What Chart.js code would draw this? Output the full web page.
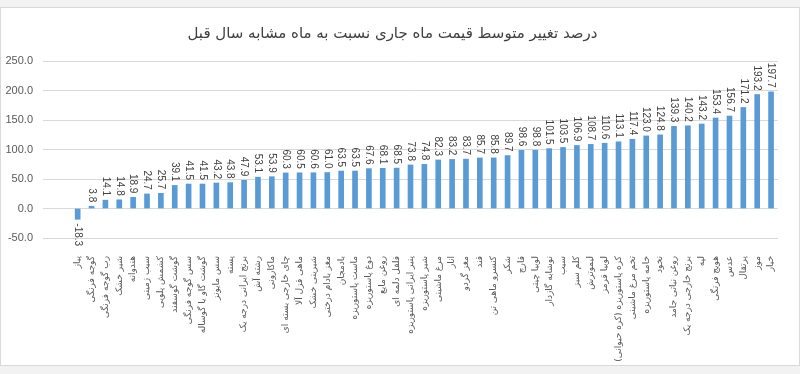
<!DOCTYPE html>
<html><head><meta charset="utf-8">
<script src="https://cdn.jsdelivr.net/npm/chart.js@4"></script>
<style>
html,body{margin:0;padding:0;background:#f2f2f2;width:800px;height:374px;overflow:hidden}
#card{position:absolute;left:0;top:7px;width:798px;height:357px;background:#fff;border:1px solid #d9d9d9}
#c{position:absolute;left:0;top:0}
</style></head><body>
<div id="card"></div>
<canvas id="c" width="800" height="374"></canvas>
<script>
const titleText = 'درصد تغییر متوسط قیمت ماه جاری نسبت به ماه مشابه سال قبل';
const categories = [
  'پیاز','گوجه فرنگی','رب گوجه فرنگی','شیر خشک','هندوانه','سیب زمینی','کشمش پلویی',
  'گوشت گوسفند','سس گوجه فرنگی','گوشت گاو یا گوساله','سس مایونز','پسته',
  'برنج ایرانی درجه یک','رشته آش','ماکارونی','چای خارجی بسته ای','ماهی قزل آلا',
  'شیرینی خشک','مغز بادام درختی','بادمجان','ماست پاستوریزه','دوغ پاستوریزه',
  'روغن مایع','فلفل دلمه ای','پنیر ایرانی پاستوریزه','شیر پاستوریزه','مرغ ماشینی',
  'انار','مغز گردو','قند','کنسرو ماهی تن','شکر','قارچ','لوبیا چیتی','نوشابه گازدار',
  'سیب','کلم سبز','لیموترش','لوبیا قرمز','کره پاستوریزه (کره حیوانی)','تخم مرغ ماشینی',
  'خامه پاستوریزه','نخود','روغن نباتی جامد','برنج خارجی درجه یک','لپه','هویج فرنگی',
  'عدس','پرتقال','موز','خیار'
];
const values = [
  -18.3, 3.8, 14.1, 14.8, 18.9, 24.7, 25.7,
  39.1, 41.5, 41.5, 43.2, 43.8,
  47.9, 53.1, 53.9, 60.3, 60.5,
  60.6, 61.0, 63.5, 63.5, 67.6,
  68.1, 68.5, 73.8, 74.8, 82.3,
  83.2, 83.7, 85.7, 85.8, 89.7, 98.6, 98.8, 101.5,
  103.5, 106.9, 108.7, 110.6, 113.1, 117.4,
  123.0, 124.8, 139.3, 140.2, 143.2, 153.4,
  156.7, 171.2, 193.2, 197.7
];
const yMin = -50, yMax = 250, yStep = 50;
const leadingBlanks = 2; // empty category slots before the first bar in the original

const labels = Array(leadingBlanks).fill('').concat(categories);
const data = Array(leadingBlanks).fill(null).concat(values);

const valueLabels = {
  id: 'valueLabels',
  afterDatasetsDraw(chart) {
    const ctx = chart.ctx;
    const meta = chart.getDatasetMeta(0);
    ctx.save();
    ctx.font = '10px "Liberation Sans", Arial, sans-serif';
    ctx.fillStyle = '#404040';
    ctx.textBaseline = 'middle';
    meta.data.forEach((bar, i) => {
      const v = chart.data.datasets[0].data[i];
      if (v == null) return;
      const txt = v.toFixed(1);
      ctx.save();
      if (v >= 0) {
        ctx.translate(bar.x, bar.y - 4);
        ctx.rotate(Math.PI / 2);
        ctx.textAlign = 'right';
      } else {
        ctx.translate(bar.x, bar.y + 4);
        ctx.rotate(Math.PI / 2);
        ctx.textAlign = 'left';
      }
      ctx.fillText(txt, 0, 0);
      ctx.restore();
    });
    ctx.restore();
  }
};

new Chart(document.getElementById('c'), {
  type: 'bar',
  data: {
    labels: labels,
    datasets: [{
      data: data,
      backgroundColor: '#5b9bd5',
      borderWidth: 0,
      barThickness: 5
    }]
  },
  options: {
    responsive: false,
    animation: false,
    devicePixelRatio: 1,
    layout: { padding: { left: 0, right: 15, top: 0, bottom: 0 } },
    plugins: {
      legend: { display: false },
      tooltip: { enabled: false },
      title: {
        display: true,
        text: titleText,
        color: '#404040',
        font: { family: '"DejaVu Sans", sans-serif', size: 15, weight: 'normal' },
        padding: { top: 25, bottom: 18 }
      }
    },
    scales: {
      x: {
        grid: { display: false, drawTicks: false },
        border: { display: false },
        ticks: {
          autoSkip: false,
          minRotation: 90,
          maxRotation: 90,
          padding: 18,
          color: '#595959',
          font: { family: '"DejaVu Sans", sans-serif', size: 9 }
        },
        afterFit(scale) { scale.height = 136; }
      },
      y: {
        min: yMin,
        max: yMax,
        grid: { color: '#d9d9d9', drawTicks: false },
        border: { display: false },
        ticks: {
          stepSize: yStep,
          padding: 10,
          color: '#595959',
          font: { family: '"Liberation Sans", Arial, sans-serif', size: 11 },
          callback: v => Number(v).toFixed(1)
        },
        afterFit(scale) { scale.width = 43; }
      }
    }
  },
  plugins: [valueLabels]
});
</script>
</body></html>
